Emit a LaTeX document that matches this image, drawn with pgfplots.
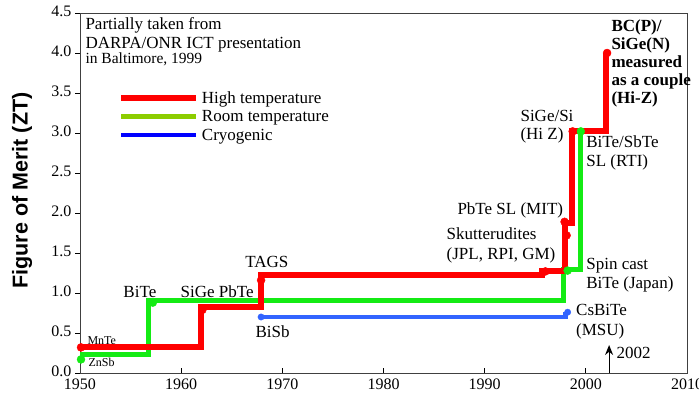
\documentclass[border=0pt]{standalone}
\usepackage{fontspec}
\setmainfont{Liberation Serif}
\newfontfamily\labelsans{Liberation Sans}
\usepackage{pgfplots}
\pgfplotsset{compat=1.18}
\usetikzlibrary{arrows.meta}

\definecolor{hiT}{RGB}{255,0,0}
\definecolor{roomT}{RGB}{20,235,20}
\definecolor{roomLeg}{RGB}{140,205,0}
\definecolor{cryoT}{RGB}{50,100,255}
\definecolor{cryoLeg}{RGB}{0,0,255}

\newcommand\ann{\fontsize{17bp}{18bp}\selectfont}
\newcommand\annsmall{\fontsize{12bp}{13bp}\selectfont}

\begin{document}
\begin{tikzpicture}
\begin{axis}[
  at={(0,0)}, anchor=south west,
  scale only axis, width=607bp, height=360bp,
  xmin=1950, xmax=2010, ymin=0, ymax=4.5,
  xtick={1950,1960,...,2010},
  ytick={0,0.5,...,4.5},
  xtick pos=bottom, ytick pos=left,
  xtick align=inside, ytick align=outside,
  major tick length=5bp,
  tick style={black, line width=0.8bp},
  axis line style={draw=black!75, line width=0.9bp},
  x tick label style={yshift=-2bp, /pgf/number format/.cd, set thousands separator={}, assume math mode=true},
  y tick label style={yshift=2bp, /pgf/number format/.cd, fixed, fixed zerofill, precision=1, assume math mode=true},
  tick label style={font=\fontsize{16bp}{16bp}\selectfont},
  ylabel={\labelsans\bfseries Figure of Merit (ZT)},
  ylabel style={at={(axis description cs:-0.0955,0.507)}, anchor=center,
    font=\fontsize{21.5bp}{22bp}\selectfont},
  clip=false,
  legend cell align=left,
  legend style={at={(axis cs:1953.76,3.525)}, anchor=north west, draw=none, fill=none,
    inner sep=0pt, row sep=0pt, column sep=3bp,
    font=\fontsize{17bp}{18bp}\selectfont,
    nodes={inner sep=0pt, text height=12bp, text depth=6.5bp}},
  legend image code/.code={\draw[#1] (-3bp,2.5bp) -- (72bp,2.5bp);},
]
% legend samples
\addlegendimage{hiT, line width=5.7bp}
\addlegendentry{High temperature}
\addlegendimage{roomLeg, line width=5.5bp}
\addlegendentry{Room temperature}
\addlegendimage{cryoLeg, line width=4bp}
\addlegendentry{Cryogenic}

% room temperature record
\addplot[roomT, line width=5bp, forget plot] coordinates {
  (1950,0.23) (1956.8,0.23) (1956.8,0.91) (1997.8,0.91)
  (1997.8,1.29) (1999.5,1.29) (1999.5,3.02)
};
\addplot[roomT, only marks, mark=*, mark size=4bp, forget plot] coordinates {
  (1950.1,0.17) (1957.2,0.88) (1998.2,1.28) (1999.5,3.02)
};

% high temperature record
\addplot[hiT, line width=6bp, forget plot] coordinates {
  (1950,0.32) (1962,0.32) (1962,0.82) (1967.9,0.82) (1967.9,1.22)
  (1995.7,1.22) (1995.7,1.27) (1997.9,1.27) (1997.9,1.88) (1998.6,1.88)
  (1998.6,3.02) (2002,3.02) (2002,4.0)
};
\addplot[hiT, only marks, mark=*, mark size=4bp, forget plot] coordinates {
  (1950.1,0.32) (1962.1,0.79) (1967.9,1.16) (1996,1.27) (1998.1,1.72)
  (1997.9,1.89) (1998.7,3.02) (2002.1,4.0)
};

% cryogenic record
\addplot[cryoT, line width=4.3bp, forget plot] coordinates {
  (1967.8,0.70) (1998,0.70) (1998,0.76)
};
\addplot[cryoT, only marks, mark=*, mark size=3.2bp, forget plot] coordinates {
  (1967.9,0.70) (1998.2,0.76)
};

% source note
\node[anchor=base west, font=\ann] at (axis cs:1950.2,4.2875) {Partially taken from};
\node[anchor=base west, font=\ann] at (axis cs:1950.2,4.05) {DARPA/ONR ICT presentation};
\node[anchor=base west, font=\fontsize{15.5bp}{16bp}\selectfont] at (axis cs:1950.2,3.8625) {in Baltimore, 1999};

% material labels
\node[anchor=base west, font=\annsmall] at (axis cs:1950.4,0.3625) {MnTe};
\node[anchor=base west, font=\annsmall] at (axis cs:1950.5,0.0875) {ZnSb};
\node[anchor=base west, font=\ann] at (axis cs:1953.95,0.95) {BiTe};
\node[anchor=base west, font=\ann] at (axis cs:1959.6,0.95) {SiGe PbTe};
\node[anchor=base west, font=\ann] at (axis cs:1966.0,1.3125) {TAGS};
\node[anchor=base west, font=\ann] at (axis cs:1967.0,0.45) {BiSb};
\node[anchor=base west, font=\ann] at (axis cs:1985.9,1.6625) {Skutterudites};
\node[anchor=base west, font=\ann] at (axis cs:1985.9,1.4125) {(JPL, RPI, GM)};
\node[anchor=base west, font=\ann] at (axis cs:1986.97,1.975) {PbTe SL (MIT)};
\node[anchor=base west, font=\ann] at (axis cs:1993.2,3.1375) {SiGe/Si};
\node[anchor=base west, font=\ann] at (axis cs:1993.2,2.9125) {(Hi Z)};
\node[anchor=base west, font=\ann] at (axis cs:1999.7,2.8125) {BiTe/SbTe};
\node[anchor=base west, font=\ann] at (axis cs:1999.7,2.575) {SL (RTI)};
\node[anchor=base west, font=\ann] at (axis cs:1999.7,1.2875) {Spin cast};
\node[anchor=base west, font=\ann] at (axis cs:1999.7,1.0625) {BiTe (Japan)};
\node[anchor=base west, font=\ann] at (axis cs:1998.7,0.725) {CsBiTe};
\node[anchor=base west, font=\ann] at (axis cs:1998.7,0.475) {(MSU)};
\node[anchor=base west, font=\ann\bfseries] at (axis cs:2002.19,4.2625) {BC(P)/};
\node[anchor=base west, font=\ann\bfseries] at (axis cs:2002.19,4.0375) {SiGe(N)};
\node[anchor=base west, font=\ann\bfseries] at (axis cs:2002.19,3.8125) {measured};
\node[anchor=base west, font=\ann\bfseries] at (axis cs:2002.19,3.5875) {as a couple};
\node[anchor=base west, font=\ann\bfseries] at (axis cs:2002.19,3.3625) {(Hi-Z)};

% present-day marker
\draw[line width=1.2bp, -{Stealth[length=10bp, width=8bp]}] (axis cs:2002.3,0) -- (axis cs:2002.3,0.35);
\node[anchor=base west, font=\ann] at (axis cs:2002.7,0.1875) {2002};
\end{axis}
\pgfresetboundingbox
\path[use as bounding box] (-80bp,-22bp) rectangle (619bp,373bp);
\end{tikzpicture}
\end{document}
